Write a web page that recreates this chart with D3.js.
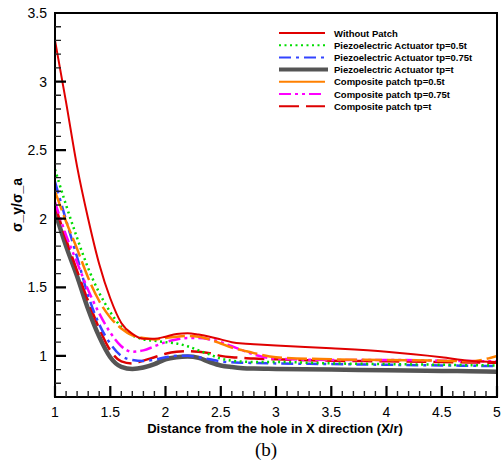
<!DOCTYPE html>
<html>
<head>
<meta charset="utf-8">
<script src="https://cdn.jsdelivr.net/npm/d3@7"></script>
<style>
  body { margin: 0; background: #fff; }
  svg { display: block; }
  text { font-family: "Liberation Sans", Arial, sans-serif; }
</style>
</head>
<body>
<svg id="chart" width="502" height="464"></svg>
<script>
// x positions (X/r) shared by every curve
const xs = [1, 1.1, 1.2, 1.3, 1.4, 1.5, 1.6, 1.7, 1.8, 1.9, 2.0, 2.1, 2.2, 2.3, 2.4, 2.5, 2.6, 2.7, 2.8, 3.0, 3.5, 4.0, 4.5, 4.75, 5.0];

const withoutPatch = [3.3, 2.85, 2.38, 2.0, 1.67, 1.42, 1.24, 1.16, 1.125, 1.125, 1.14, 1.16, 1.165, 1.155, 1.14, 1.12, 1.1, 1.09, 1.085, 1.075, 1.055, 1.03, 0.99, 0.965, 0.955];
const piezo05 = [2.36, 2.1, 1.86, 1.64, 1.46, 1.32, 1.21, 1.15, 1.12, 1.11, 1.1, 1.09, 1.07, 1.04, 1.01, 0.98, 0.965, 0.958, 0.955, 0.955, 0.945, 0.94, 0.935, 0.932, 0.93];
const piezo075 = [2.27, 1.99, 1.72, 1.44, 1.23, 1.09, 1.0, 0.97, 0.962, 0.972, 0.99, 1.0, 1.0, 0.99, 0.975, 0.96, 0.953, 0.95, 0.948, 0.945, 0.94, 0.935, 0.93, 0.928, 0.925];
const piezo1 = [2.05, 1.8, 1.58, 1.34, 1.14, 0.99, 0.92, 0.905, 0.915, 0.94, 0.975, 0.99, 0.995, 0.985, 0.955, 0.93, 0.918, 0.91, 0.907, 0.905, 0.9, 0.895, 0.89, 0.888, 0.885];
const comp05 = [2.2, 1.98, 1.78, 1.57, 1.4, 1.28, 1.2, 1.15, 1.13, 1.12, 1.13, 1.14, 1.145, 1.14, 1.12, 1.09, 1.06, 1.04, 1.02, 0.99, 0.975, 0.97, 0.965, 0.96, 1.0];
const comp075 = [2.12, 1.88, 1.68, 1.48, 1.31, 1.17, 1.07, 1.03, 1.04, 1.07, 1.1, 1.12, 1.13, 1.13, 1.12, 1.1, 1.07, 1.04, 1.01, 0.98, 0.97, 0.97, 0.965, 0.962, 0.96];
const comp1 = [2.1, 1.85, 1.62, 1.4, 1.2, 1.04, 0.96, 0.945, 0.965, 0.99, 1.015, 1.03, 1.035, 1.03, 1.02, 1.0, 0.99, 0.985, 0.98, 0.975, 0.965, 0.96, 0.955, 0.952, 0.95];

const seriesNames = ["Without Patch", "Piezoelectric Actuator tp=0.5t", "Piezoelectric Actuator tp=0.75t",
  "Piezoelectric Actuator tp=t", "Composite patch tp=0.5t", "Composite patch tp=0.75t", "Composite patch tp=t"];
const seriesValues = [withoutPatch, piezo05, piezo075, piezo1, comp05, comp075, comp1];

const xTicks = [1, 1.5, 2, 2.5, 3, 3.5, 4, 4.5, 5];
const yTicks = [1, 1.5, 2, 2.5, 3, 3.5];

// styles per series (colour, width, dash)
const styles = [
  { c: "#e00000", w: 2, d: null },
  { c: "#00dd00", w: 2.5, d: "2,3.5" },
  { c: "#3344ff", w: 2.5, d: "12,5,3,5" },
  { c: "#555555", w: 4.5, d: null },
  { c: "#ff8000", w: 2.5, d: "20,5" },
  { c: "#ff00ff", w: 2.5, d: "12,4,3,4,3,4" },
  { c: "#dd0000", w: 2.5, d: "20,7" }
];
const drawOrder = [3, 6, 2, 5, 1, 4, 0];

const svg = d3.select("#chart");
const mLeft = 55, mRight = 497, mTop = 13, mBottom = 397;

const x = d3.scaleLinear().domain([1, 5]).range([mLeft, mRight]);
const y = d3.scaleLinear().domain([0.7, 3.5]).range([mBottom, mTop]);

const line = d3.line()
  .x((d) => x(d[0]))
  .y((d) => y(d[1]))
  .curve(d3.curveMonotoneX);

const plot = svg.append("g");
plot.append("clipPath").attr("id", "clip")
  .append("rect").attr("x", mLeft).attr("y", mTop).attr("width", mRight - mLeft).attr("height", mBottom - mTop);

const curves = plot.append("g").attr("clip-path", "url(#clip)");
drawOrder.forEach((i) => {
  const pts = xs.map((v, k) => [v, seriesValues[i][k]]);
  curves.append("path")
    .attr("d", line(pts))
    .attr("fill", "none")
    .attr("stroke", styles[i].c)
    .attr("stroke-width", styles[i].w)
    .attr("stroke-dasharray", styles[i].d);
});

// frame
svg.append("rect")
  .attr("x", mLeft).attr("y", mTop)
  .attr("width", mRight - mLeft).attr("height", mBottom - mTop)
  .attr("fill", "none").attr("stroke", "#000").attr("stroke-width", 2);

// ticks pointing inward (major + minor), drawn as one path each
const xMinorVals = d3.range(10, 51).map((v) => v / 10);
const yMinorVals = d3.range(8, 36).map((v) => v / 10);
const isMajor = (arr, d) => arr.some((t) => Math.abs(t - d) < 1e-6);

let majorD = "", minorD = "";
xMinorVals.forEach((d) => {
  const px = x(d).toFixed(1);
  if (isMajor(xTicks, d)) majorD += `M${px},${mBottom}V${mBottom - 11}`;
  else minorD += `M${px},${mBottom}V${mBottom - 6}`;
});
yMinorVals.forEach((d) => {
  const py = y(d).toFixed(1);
  if (isMajor(yTicks, d)) majorD += `M${mLeft},${py}H${mLeft + 11}`;
  else minorD += `M${mLeft},${py}H${mLeft + 6}`;
});
svg.append("path").attr("d", minorD).attr("fill", "none").attr("stroke", "#222").attr("stroke-width", 1.4);
svg.append("path").attr("d", majorD).attr("fill", "none").attr("stroke", "#000").attr("stroke-width", 2.2);

// tick labels
svg.append("g").selectAll("text").data(xTicks).join("text")
  .attr("x", (d) => x(d)).attr("y", mBottom + 20)
  .attr("text-anchor", "middle").attr("font-size", 14)
  .text((d) => d);
svg.append("g").selectAll("text").data(yTicks).join("text")
  .attr("x", mLeft - 8).attr("y", (d) => y(d) + 5)
  .attr("text-anchor", "end").attr("font-size", 14)
  .text((d) => d);

// axis titles
svg.append("text")
  .attr("x", 275).attr("y", 433)
  .attr("text-anchor", "middle").attr("font-size", 13).attr("font-weight", "bold")
  .text("Distance from the hole in X direction (X/r)");
svg.append("text")
  .attr("transform", "translate(22,205) rotate(-90)")
  .attr("text-anchor", "middle").attr("font-size", 14).attr("font-weight", "bold")
  .text("σ_y/σ_a");
svg.append("text")
  .attr("x", 266).attr("y", 456)
  .attr("text-anchor", "middle").attr("font-size", 19)
  .style("font-family", "'Liberation Serif', 'Times New Roman', serif")
  .text("(b)");

// legend
const legend = svg.append("g");
seriesNames.forEach((name, i) => {
  const ly = 33 + i * 12.2;
  legend.append("line")
    .attr("x1", 279).attr("x2", i === 3 ? 328 : 325)
    .attr("y1", ly).attr("y2", ly)
    .attr("stroke", styles[i].c)
    .attr("stroke-width", i === 3 ? 4 : 2)
    .attr("stroke-dasharray", i === 4 ? null : styles[i].d);
  legend.append("text")
    .attr("x", 334).attr("y", ly + 3.5)
    .attr("font-size", 9.5).attr("font-weight", "bold")
    .text(name);
});
</script>
</body>
</html>
